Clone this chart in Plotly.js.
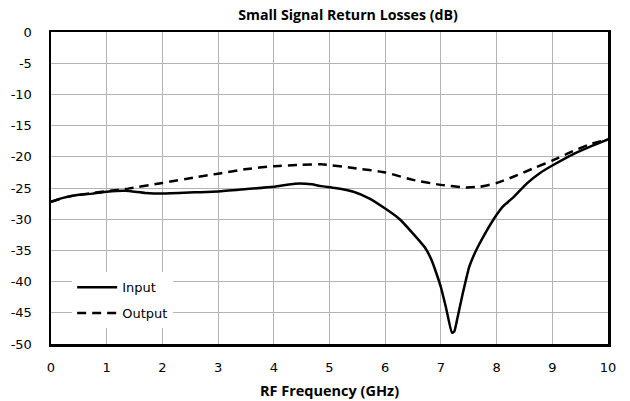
<!DOCTYPE html>
<html>
<head>
<meta charset="utf-8">
<script src="https://cdn.plot.ly/plotly-3.0.1.min.js"></script>
<style>html,body{margin:0;padding:0;background:#fff}#chart{width:630px;height:401px}</style>
</head>
<body>
<div id="chart"></div>
<script>
const inputFreq = [0, 0.25, 0.5, 0.75, 1.0, 1.33, 1.69, 2.0, 2.58, 3.0, 3.48, 4.0, 4.38, 4.68, 4.85, 5.1, 5.43, 5.72, 6.0, 6.26, 6.5, 6.71, 6.83, 6.92, 7.0, 7.09, 7.2, 7.24, 7.3, 7.39, 7.51, 7.58, 7.66, 7.78, 8.0, 8.12, 8.3, 8.54, 8.78, 9.0, 9.37, 9.67, 10];
const inputLoss = [-27.2, -26.5, -26.1, -25.9, -25.6, -25.45, -25.8, -25.9, -25.7, -25.55, -25.2, -24.8, -24.3, -24.4, -24.7, -25.0, -25.6, -26.7, -28.3, -30.0, -32.3, -34.5, -36.5, -38.7, -40.9, -44.1, -48.2, -48.0, -45.7, -42.0, -37.6, -36.0, -34.5, -32.5, -29.3, -27.9, -26.5, -24.3, -22.6, -21.4, -19.6, -18.4, -17.2];
const outputFreq = [0, 0.25, 0.5, 0.75, 1.0, 1.38, 2.0, 2.58, 3.0, 3.48, 4.0, 4.5, 4.85, 5.43, 6.0, 6.5, 7.0, 7.45, 7.7, 8.0, 8.3, 8.7, 9.0, 9.37, 9.67, 10];
const outputLoss = [-27.2, -26.5, -26.1, -25.8, -25.5, -25.1, -24.2, -23.3, -22.7, -22.0, -21.5, -21.3, -21.2, -21.8, -22.5, -23.7, -24.5, -24.9, -24.8, -24.2, -23.2, -21.7, -20.6, -19.1, -18.0, -17.2];
const xTicks = [0,1,2,3,4,5,6,7,8,9,10];
const yTicks = [0,-5,-10,-15,-20,-25,-30,-35,-40,-45,-50];

const traces = [
  {x: inputFreq, y: inputLoss, name: 'Input', mode: 'lines', legendgroup: 'a',
   line: {color: '#000', width: 2.5, shape: 'spline', smoothing: 0.5}},
  {x: outputFreq, y: outputLoss, name: 'Output', mode: 'lines', legendgroup: 'b',
   line: {color: '#000', width: 2.5, dash: '9px,6px', shape: 'spline', smoothing: 0.5}}
];

const tickFont = {family: 'DejaVu Sans', size: 13, color: '#000'};
const layout = {
  width: 630, height: 401,
  margin: {l: 51, r: 22, t: 32, b: 57},
  paper_bgcolor: '#fff', plot_bgcolor: '#fff',
  title: {text: 'Small Signal Return Losses (dB)', font: {family: 'Open Sans', size: 14.2, color: '#000', weight: 'bold'}, x: 348/630, xanchor: 'center', y: 1 - 15/401, yanchor: 'middle'},
  xaxis: {range: [0, 10], tickvals: xTicks, ticktext: xTicks.map(String), showgrid: true, gridcolor: '#b3b3b3', gridwidth: 1,
    zeroline: false, showline: true, linecolor: '#000', linewidth: 2.5, mirror: true, ticks: '', tickfont: tickFont, ticklabelstandoff: 10,
    title: {text: 'RF Frequency (GHz)', font: {family: 'Open Sans', size: 14.5, color: '#000', weight: 'bold'}, standoff: 12}},
  yaxis: {range: [-50, 0], tickvals: yTicks, ticktext: yTicks.map(String), showgrid: true, gridcolor: '#b3b3b3', gridwidth: 1,
    zeroline: false, showline: true, linecolor: '#000', linewidth: 2.5, mirror: true, ticks: '', tickfont: tickFont, ticklabelstandoff: 14},
  legend: {x: 0.038, y: 0.23, xanchor: 'left', yanchor: 'top', bgcolor: '#fff', borderwidth: 0,
    font: {family: 'DejaVu Sans', size: 13, color: '#000'}, tracegroupgap: 6, itemwidth: 40},
  showlegend: true
};
Plotly.newPlot('chart', traces, layout, {displayModeBar: false, staticPlot: true});
</script>
</body>
</html>
